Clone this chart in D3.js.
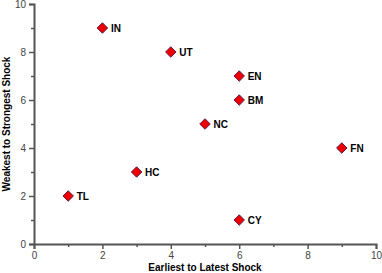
<!DOCTYPE html>
<html>
<head>
<meta charset="utf-8">
<script src="https://cdn.jsdelivr.net/npm/d3@7"></script>
<style>
  body { margin: 0; background: #fff; }
  text { font-family: "Liberation Sans", Arial, sans-serif; }
</style>
</head>
<body>
<div class="chart"></div>
<script>
// DATA ------------------------------
const codes = ["IN", "UT", "EN", "BM", "NC", "FN", "HC", "TL", "CY"]
const earliest = [2, 4, 6, 6, 5, 9, 3, 1, 6]
const strongest = [9, 8, 7, 6, 5, 4, 3, 2, 1]
const majorTicks = [0, 2, 4, 6, 8, 10]
const minorTicks = [1, 3, 5, 7, 9]

const data = codes.map((c, i) => ({code: c, x: earliest[i], y: strongest[i]}))

// MARGIN CONVENTION
const margin = ({top: 4, right: 6, bottom: 29, left: 34})
const width = 382 - margin.left - margin.right,
  height = 273 - margin.top - margin.bottom

const svg = d3.select(".chart")
  .append("svg")
  .attr("width", width + margin.left + margin.right)
  .attr("height", height + margin.top + margin.bottom)
  .append("g")
  .attr("transform", "translate(" + margin.left + "," + margin.top + ")")

let xScale = d3.scaleLinear().domain([0, 10]).range([0, width])
let yScale = d3.scaleLinear().domain([0, 10]).range([height, 0])

const axisColor = "#555"

// axes
let xAxis = svg.append("g")
  .attr("class", "axis x-axis")
  .attr("transform", `translate(0, ${height})`)
  .call(d3.axisBottom(xScale).tickValues(majorTicks).tickSize(5).tickPadding(3))
let yAxis = svg.append("g")
  .attr("class", "axis y-axis")
  .call(d3.axisLeft(yScale).tickValues(majorTicks).tickSize(5).tickPadding(3))

// minor ticks
svg.append("g")
  .attr("transform", `translate(0, ${height})`)
  .call(d3.axisBottom(xScale).tickValues(minorTicks).tickSize(3).tickFormat(""))
  .call(g => g.select(".domain").remove())
svg.append("g")
  .call(d3.axisLeft(yScale).tickValues(minorTicks).tickSize(3).tickFormat(""))
  .call(g => g.select(".domain").remove())

svg.selectAll(".domain").attr("stroke", axisColor).attr("stroke-width", 2)
svg.selectAll(".tick line").attr("stroke", axisColor).attr("stroke-width", 1.5)
svg.selectAll(".tick text").attr("fill", "#444").style("font-size", "10px")

// points
svg.selectAll(".pt")
  .data(data)
  .enter()
  .append("path")
  .attr("class", "pt")
  .attr("d", d3.symbol().type(d3.symbolDiamond2).size(70))
  .attr("transform", d => `translate(${xScale(d.x)},${yScale(d.y)})`)
  .attr("fill", "#ee0000")
  .attr("stroke", "#5a1a4a")
  .attr("stroke-width", 1)

svg.selectAll(".lbl")
  .data(data)
  .enter()
  .append("text")
  .attr("class", "lbl")
  .attr("x", d => xScale(d.x) + 8.5)
  .attr("y", d => yScale(d.y) + 3.5)
  .style("font-size", "10px")
  .style("font-weight", "bold")
  .text(d => d.code)

// axis titles
svg.append("text")
  .attr("x", width / 2)
  .attr("y", height + 27)
  .attr("text-anchor", "middle")
  .style("font-size", "10px")
  .style("font-weight", "bold")
  .text("Earliest to Latest Shock")

svg.append("text")
  .attr("transform", `translate(${-24}, ${height / 2}) rotate(-90)`)
  .attr("text-anchor", "middle")
  .style("font-size", "10px")
  .style("font-weight", "bold")
  .text("Weakest to Strongest Shock")
</script>
</body>
</html>
